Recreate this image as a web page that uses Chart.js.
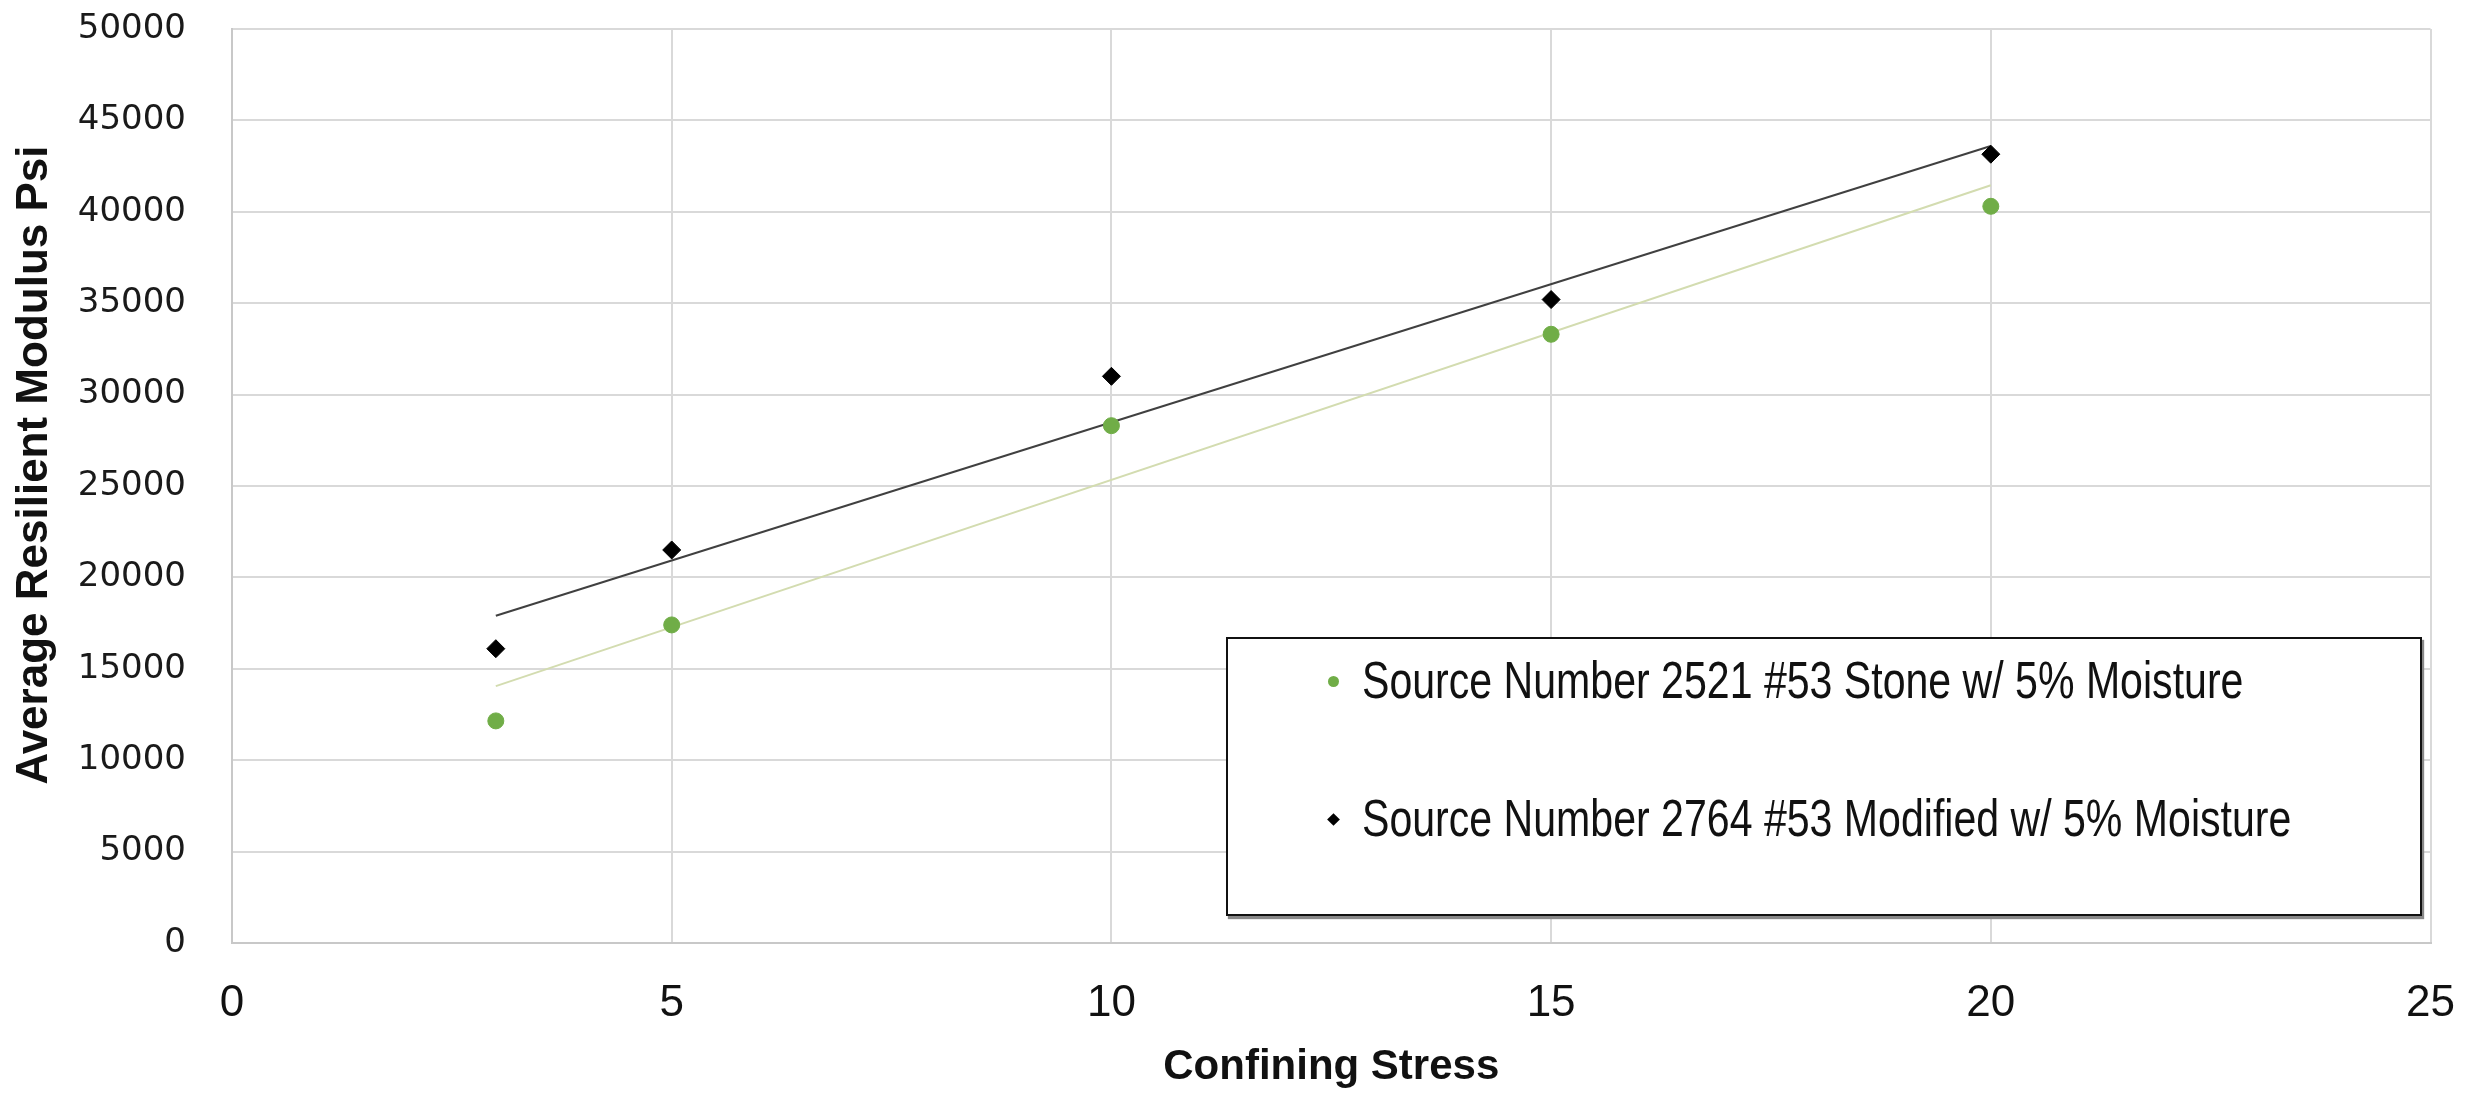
<!DOCTYPE html>
<html>
<head>
<meta charset="utf-8">
<script src="https://cdn.jsdelivr.net/npm/chart.js@4.4.1/dist/chart.umd.min.js"></script>
<style>
  body { margin:0; background:#fff; }
  #wrap { position:relative; width:2489px; height:1093px; }
  #legend {
    position:absolute; left:1226px; top:637px; width:1192px; height:275px;
    border:2px solid #111; box-shadow:2px 3px 1px #888; background:#fff;
    font-family:"Liberation Sans Narrow","Arial Narrow","Liberation Sans",sans-serif; font-size:52px; color:#111;
  }
  #legend ul { list-style:none; margin:0; padding:0; }
  #legend li { position:absolute; left:0; white-space:nowrap; }
  #legend .mk { position:absolute; left:100px; }
  #legend .tx { position:absolute; left:134px; top:-32px; transform:scaleX(0.79); transform-origin:left center; }
</style>
</head>
<body>
<div id="wrap">
  <canvas id="myChart" width="2489" height="1093"></canvas>
  <div id="legend"></div>
</div>
<script>
// confining stress values
var stress = [3, 5, 10, 15, 20];
// average resilient modulus (psi)
var stone2521 = [12150, 17400, 28300, 33300, 40300];
var mod2764 = [16100, 21500, 31000, 35200, 43150];
// trendline ends as drawn (x = 3 and x = 20)
var trendX = [3, 20];
var trendStone = [14050, 41450];
var trendMod = [17900, 43600];

var xTicks = [0, 5, 10, 15, 20, 25];
var yTicks = [0, 5000, 10000, 15000, 20000, 25000, 30000, 35000, 40000, 45000, 50000];

var seriesNames = ["Source Number 2521 #53 Stone w/ 5% Moisture",
                   "Source Number 2764 #53 Modified w/ 5% Moisture"];
var yTitle = 'Average Resilient Modulus Psi';

function pts(xs, ys) {
  var out = [];
  for (var i = 0; i < xs.length; i++) out.push({x: xs[i], y: ys[i]});
  return out;
}

var green = '#70ad47';
var gridCol = '#d9d9d9';
var narrow = '"Liberation Sans Narrow","Arial Narrow","Liberation Sans",sans-serif';

// y title sits a little above the middle of the axis in the original
var yTitlePlugin = {
  id: 'yTitle',
  afterDraw: function(chart) {
    var c = chart.ctx;
    c.save();
    c.translate(35, 465);
    c.rotate(-Math.PI / 2);
    c.font = 'bold 44px ' + narrow;
    c.fillStyle = '#111';
    c.textAlign = 'center';
    c.textBaseline = 'middle';
    c.fillText(yTitle, 0, 0);
    c.restore();
  }
};

var ctx = document.getElementById("myChart").getContext('2d');
var myChart = new Chart(ctx, {
  type: 'scatter',
  data: {
    datasets: [
      { label: seriesNames[0], data: pts(stress, stone2521), backgroundColor: green, borderColor: green,
        pointStyle: 'circle', pointRadius: 8, order: 1 },
      { label: seriesNames[1], data: pts(stress, mod2764), backgroundColor: '#000', borderColor: '#000',
        pointStyle: 'rectRot', pointRadius: 9, order: 1 },
      { label: 'trend1', data: pts(trendX, trendStone), showLine: true, borderColor: '#d3dcb0',
        borderWidth: 2, pointRadius: 0, order: 2 },
      { label: 'trend2', data: pts(trendX, trendMod), showLine: true, borderColor: '#404040',
        borderWidth: 2, pointRadius: 0, order: 2 }
    ]
  },
  plugins: [yTitlePlugin],
  options: {
    responsive: false,
    animation: false,
    layout: { autoPadding: false, padding: { left: 0, right: 49, top: 29, bottom: 0 } },
    plugins: { legend: { display: false }, tooltip: { enabled: false } },
    scales: {
      x: {
        type: 'linear', min: 0, max: 25,
        afterBuildTicks: function(s) { s.ticks = xTicks.map(function(v) { return {value: v}; }); },
        afterFit: function(s) { s.height = 150; },
        grid: { color: gridCol, lineWidth: 2, drawTicks: false },
        border: { color: '#c8c8c8', width: 2 },
        ticks: { padding: 34, color: '#111', font: { family: narrow, size: 44 } },
        title: { display: true, text: 'Confining Stress', color: '#111', padding: { top: 10, bottom: 0 },
          font: { family: narrow, size: 42, weight: 'bold' } }
      },
      y: {
        min: 0, max: 50000,
        afterBuildTicks: function(s) { s.ticks = yTicks.map(function(v) { return {value: v}; }); },
        afterFit: function(s) { s.width = 232; s.paddingTop = 0; s.paddingBottom = 0; },
        grid: { color: gridCol, lineWidth: 2, drawTicks: false },
        border: { color: '#c8c8c8', width: 2 },
        ticks: { padding: 46, color: '#1a1a1a', callback: function(v) { return String(v); },
          font: { family: '"DejaVu Sans",sans-serif', size: 34 } },
        title: { display: false }
      }
    }
  }
});

// html legend for the two measured series
var legendBox = document.getElementById("legend");
var html = '<ul>';
var rowTop = [43, 181];
for (var i = 0; i < 2; i++) {
  var ds = myChart.data.datasets[i];
  var mk = i == 0
    ? '<span class="mk" style="top:-6px;width:11px;height:11px;border-radius:50%;background:' + ds.backgroundColor + '"></span>'
    : '<span class="mk" style="top:-5px;left:101px;width:9px;height:9px;transform:rotate(45deg);background:#000"></span>';
  html += '<li style="top:' + rowTop[i] + 'px">' + mk + '<span class="tx">' + ds.label + '</span></li>';
}
html += '</ul>';
legendBox.innerHTML = html;
</script>
</body>
</html>
